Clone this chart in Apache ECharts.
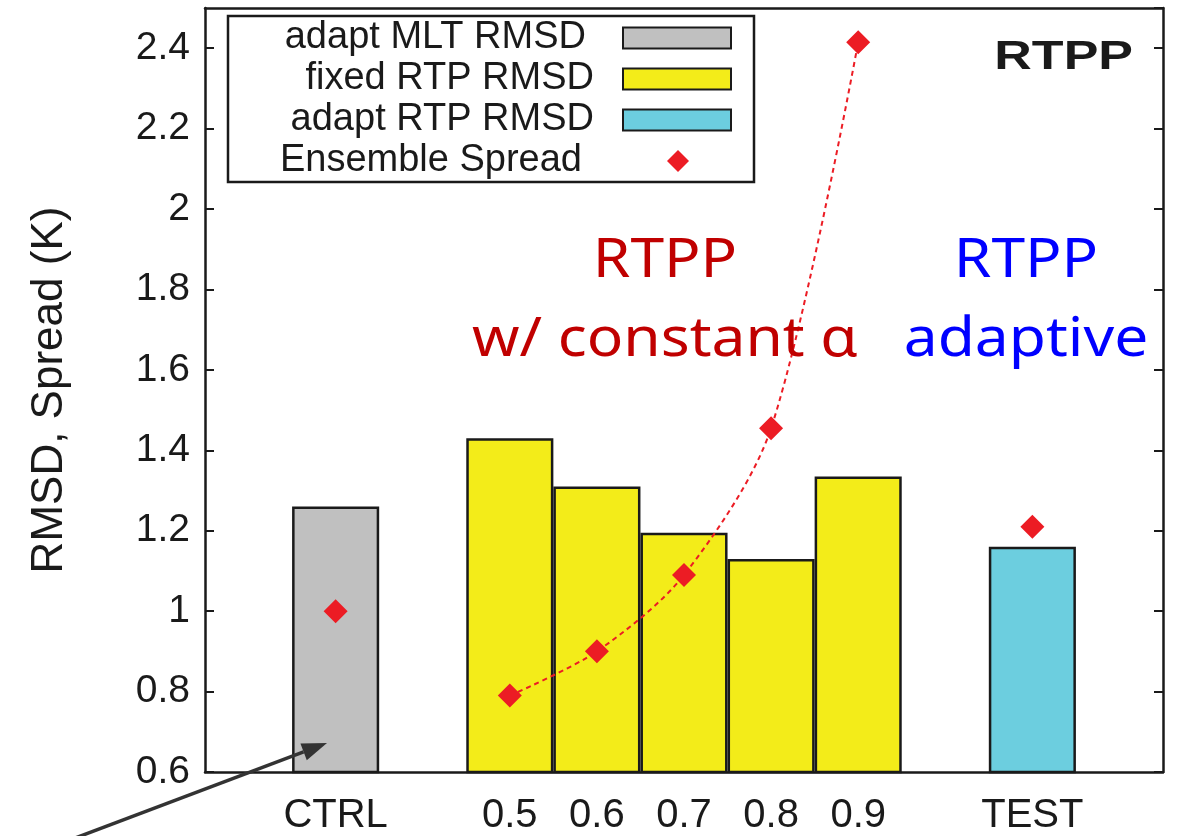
<!DOCTYPE html>
<html lang="en">
<head>
    <meta charset="UTF-8">
    <title>RTPP RMSD and spread</title>
    <script src="https://cdn.jsdelivr.net/npm/echarts@6/dist/echarts.min.js"></script>
    <style>
        html, body { margin: 0; padding: 0; background: #fff; }
        #main { width: 1181px; height: 836px; }
    </style>
</head>
<body>
    <div id="main"></div>
    <script>
        // categories (blank slots keep the gaps between groups)
        var categories = ['', 'CTRL', ' ', '0.5', '0.6', '0.7', '0.8', '0.9', '  ', 'TEST', '   ']
        var mltRmsd = ['-', 1.26, '-', '-', '-', '-', '-', '-', '-', '-', '-']
        var fixedRtpRmsd = ['-', '-', '-', 1.43, 1.31, 1.195, 1.13, 1.335, '-', '-', '-']
        var adaptRtpRmsd = ['-', '-', '-', '-', '-', '-', '-', '-', '-', 1.16, '-']
        var spread = ['-', 1.0, '-', 0.79, 0.90, 1.09, 1.455, 2.415, '-', 1.21, '-']
        var yTicks = { min: 0.6, max: 2.5, step: 0.2 }

        var ink = '#1a1a1a'
        var font = 'Liberation Sans, Arial, sans-serif'
        var noteFont = 'Noto Sans, Open Sans, sans-serif'
        var mChart = echarts.init(document.getElementById('main'))

        function tickAt(idx, val) {
            return val.trim() !== ''
        }

        // arrow pointing at the CTRL bar
        var tip = [327, 743], tail = [62, 843]
        var dx = tip[0] - tail[0], dy = tip[1] - tail[1]
        var len = Math.sqrt(dx * dx + dy * dy)
        var ux = dx / len, uy = dy / len
        var headLen = 25, headHalf = 9
        var base = [tip[0] - ux * headLen, tip[1] - uy * headLen]

        function legendItem(name, right, top, w, h, padRight, icon) {
            return {
                data: [{ name: name, icon: icon }],
                orient: 'vertical',
                align: 'right',
                right: right,
                top: top,
                padding: 0,
                itemWidth: w,
                itemHeight: h,
                selectedMode: false,
                z: 10,
                textStyle: {
                    fontFamily: font,
                    fontSize: 38,
                    lineHeight: 38,
                    color: ink,
                    padding: [0, padRight, 0, 0]
                }
            }
        }

        // the two big notes inside the plot
        function note(text, cx, color) {
            return {
                type: 'text',
                z: 10,
                x: cx,
                y: 222,
                scaleX: 1.12,
                style: { text: text, x: 0, y: 0, align: 'center', verticalAlign: 'top', fontFamily: noteFont, fontSize: 54, lineHeight: 79, fill: color }
            }
        }

        var option = {
            animation: false,
            backgroundColor: '#fff',
            grid: { left: 205, right: 18, top: 8, bottom: 61 },
            legend: [
                legendItem('adapt MLT RMSD', 449, 19, 108, 21, 32, 'rect'),
                legendItem('fixed RTP RMSD', 449, 60, 108, 21, 24, 'rect'),
                legendItem('adapt RTP RMSD', 449, 101, 108, 21, 24, 'rect'),
                legendItem('Ensemble Spread', 492, 142, 22, 22, 80, 'diamond')
            ],
            xAxis: [{
                type: 'category',
                data: categories,
                position: 'bottom',
                axisLine: { lineStyle: { color: ink, width: 2.5 } },
                axisTick: { inside: true, length: 9, alignWithLabel: true, interval: tickAt, lineStyle: { color: ink, width: 2 } },
                axisLabel: { interval: 0, margin: 24, fontFamily: font, fontSize: 40, color: ink }
            }, {
                type: 'category',
                data: categories,
                position: 'top',
                axisLine: { lineStyle: { color: ink, width: 2.5 } },
                axisTick: { inside: true, length: 9, alignWithLabel: true, interval: tickAt, lineStyle: { color: ink, width: 2 } },
                axisLabel: { show: false }
            }],
            yAxis: [{
                type: 'value',
                min: yTicks.min,
                max: yTicks.max,
                interval: yTicks.step,
                name: 'RMSD, Spread (K)',
                nameLocation: 'middle',
                nameGap: 133,
                nameTextStyle: { fontFamily: font, fontSize: 44, color: ink },
                splitLine: { show: false },
                axisLine: { show: true, lineStyle: { color: ink, width: 2.5 } },
                axisTick: { show: true, inside: true, length: 9, lineStyle: { color: ink, width: 2 } },
                axisLabel: { margin: 15, fontFamily: font, fontSize: 39, color: ink, showMaxLabel: false }
            }, {
                type: 'value',
                position: 'right',
                min: yTicks.min,
                max: yTicks.max,
                interval: yTicks.step,
                splitLine: { show: false },
                axisLine: { show: true, lineStyle: { color: ink, width: 2.5 } },
                axisTick: { show: true, inside: true, length: 9, lineStyle: { color: ink, width: 2 } },
                axisLabel: { show: false }
            }],
            series: [{
                name: 'adapt MLT RMSD',
                type: 'bar',
                data: mltRmsd,
                barWidth: '100%',
                barGap: '-100%',
                itemStyle: { color: '#c0c0c0', borderColor: ink, borderWidth: 2.5 }
            }, {
                name: 'fixed RTP RMSD',
                type: 'bar',
                data: fixedRtpRmsd,
                barWidth: '100%',
                barGap: '-100%',
                itemStyle: { color: '#f3ec19', borderColor: ink, borderWidth: 2.5 }
            }, {
                name: 'adapt RTP RMSD',
                type: 'bar',
                data: adaptRtpRmsd,
                barWidth: '100%',
                barGap: '-100%',
                itemStyle: { color: '#6ccedf', borderColor: ink, borderWidth: 2.5 }
            }, {
                name: 'Ensemble Spread',
                type: 'line',
                data: spread,
                connectNulls: false,
                smooth: 0.3,
                symbol: 'diamond',
                symbolSize: 24,
                z: 5,
                itemStyle: { color: '#ec1c24' },
                lineStyle: { color: '#ec1c24', width: 2, type: [5, 4] }
            }],
            graphic: [{
                type: 'rect',
                z: 5,
                shape: { x: 228, y: 16, width: 526, height: 166 },
                style: { fill: '#fff', stroke: ink, lineWidth: 2.5 }
            }, {
                // panel tag, stretched wide like the original
                type: 'text',
                z: 10,
                x: 1133,
                y: 58,
                scaleX: 1.3,
                style: { text: 'RTPP', x: 0, y: 0, align: 'right', verticalAlign: 'middle', fontFamily: font, fontWeight: 'bold', fontSize: 40, fill: ink }
            },
            note('RTPP\nw/ constant \u03b1', 665, '#c00000'),
            note('RTPP\nadaptive', 1026, '#0000ff'),
            {
                type: 'line',
                z: 10,
                shape: { x1: tail[0], y1: tail[1], x2: base[0], y2: base[1] },
                style: { stroke: '#333', lineWidth: 3.5 }
            }, {
                type: 'polygon',
                z: 10,
                shape: {
                    points: [
                        tip,
                        [base[0] - uy * headHalf, base[1] + ux * headHalf],
                        [base[0] + uy * headHalf, base[1] - ux * headHalf]
                    ]
                },
                style: { fill: '#333' }
            }]
        }
        mChart.setOption(option)
    </script>
</body>
</html>
